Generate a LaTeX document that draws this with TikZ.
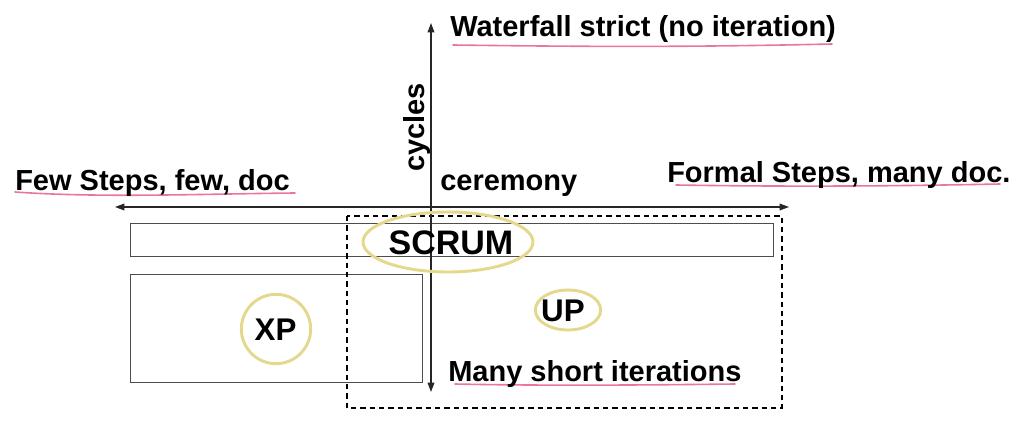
\documentclass[tikz,border=0pt]{standalone}
\usepackage{fontspec}
\setmainfont{Liberation Sans}
\usetikzlibrary{arrows.meta}
\definecolor{hl}{RGB}{228,70,130}
\definecolor{ringc}{RGB}{228,216,140}
\begin{document}
\begin{tikzpicture}[x=0.75pt,y=-0.75pt,
  lbl/.style={font=\bfseries\fontsize{21.75}{26}\selectfont, inner sep=0pt},
  big/.style={font=\bfseries\fontsize{25.5}{30}\selectfont, inner sep=0pt},
  mid/.style={font=\bfseries\fontsize{23.5}{28}\selectfont, inner sep=0pt},
  axis/.style={line width=0.9pt, draw=black!85, {Triangle[length=7pt,width=5pt]}-{Triangle[length=7pt,width=5pt]}},
  box/.style={draw=black!70, line width=0.75pt},
  dbox/.style={draw=black, line width=1pt, dash pattern=on 4pt off 3pt},
  ring/.style={draw=ringc, line width=2.2pt},
  uline/.style={draw=hl, line width=1.2pt, line cap=round, opacity=0.75}]
\useasboundingbox (0,0) rectangle (1024,434);
% boxes
\draw[box] (130,224) rectangle (773,257);
\draw[box] (130,275) rectangle (422,383);
\draw[dbox] (347,216) rectangle (782,408);
% axes
\coordinate (vt) at (431,23);
\coordinate (vb) at (431,392);
\coordinate (hl) at (115,207);
\coordinate (hr) at (789,207);
\draw[axis] (vt) -- (vb);
\draw[axis] (hl) -- (hr);
% rings
\draw[ring] (448,242) ellipse [x radius=63.75pt, y radius=22.5pt];
\draw[ring] (276,329) circle [radius=26pt];
\draw[ring] (568,310) ellipse [x radius=24.5pt, y radius=15pt];
% underlines
\draw[uline] (453,45) .. controls (600,47) and (700,47) .. (832,44);
\draw[uline] (15,192) .. controls (100,198) and (200,194) .. (295,193);
\draw[uline] (676,185) .. controls (800,187) and (900,186) .. (1000,184);
\draw[uline] (455,384) .. controls (550,386) and (650,385) .. (735,384);
% labels
\node[lbl, anchor=base west] (wf) at (450,37) {Waterfall strict (no iteration)};
\node[lbl, anchor=base west] (few) at (15,191) {Few Steps, few, doc};
\node[lbl, anchor=base west] (cer) at (440,191) {ceremony};
\node[lbl, anchor=base west] (formal) at (667,183) {Formal Steps, many doc.};
\node[lbl, anchor=base west] (many) at (448,382) {Many short iterations};
\node[lbl, rotate=90, anchor=base west] (cyc) at (424,172) {cycles};
\node[big] (scrum) at (451,242.5) {SCRUM};
\node[mid] (xp) at (275.5,329.5) {XP};
\node[mid] (up) at (563,311) {UP};
\end{tikzpicture}
\end{document}
